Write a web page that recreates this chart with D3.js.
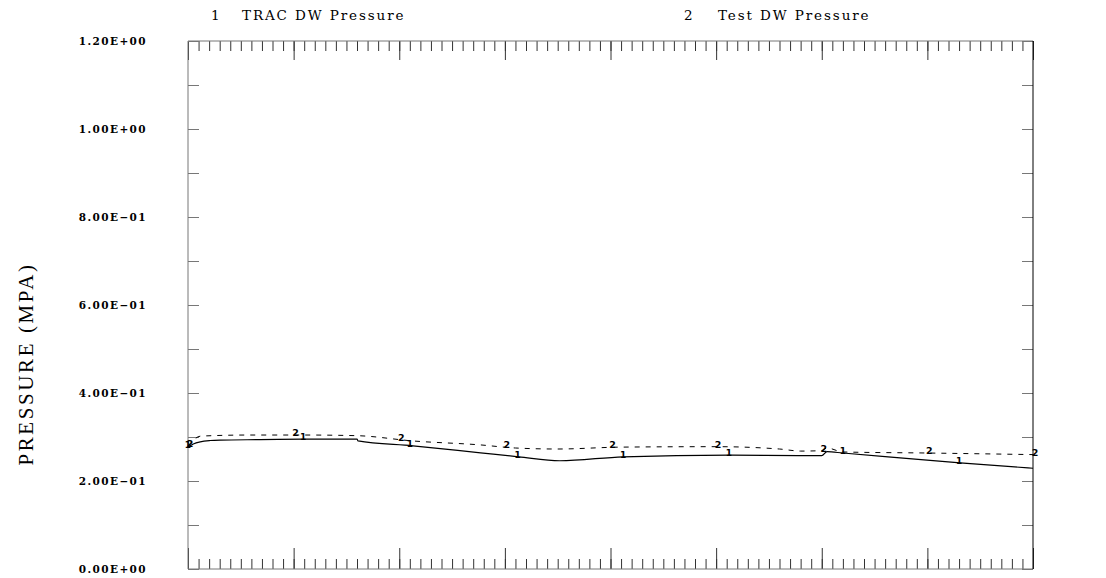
<!DOCTYPE html>
<html>
<head>
<meta charset="utf-8">
<script src="https://cdn.jsdelivr.net/npm/d3@7"></script>
<style>
body { margin: 0; background: #fff; }
svg { display: block; }
</style>
</head>
<body>
<svg></svg>
<script>
const width = 1106;
const height = 578;

// time axis in minor-tick units (no labels on the original)
const tracX = [0, 0.5, 1.16, 2.1, 3.06, 6.8, 10.9, 16.0, 16.1, 21.3, 27.7, 31.3, 35.2, 41.2, 51.3, 58.0, 60.0, 60.5, 62.0, 73.1, 80];
const tracP = [0.277, 0.284, 0.289, 0.292, 0.293, 0.294, 0.295, 0.2955, 0.291, 0.280, 0.264, 0.255, 0.246, 0.255, 0.259, 0.2575, 0.2575, 0.2666, 0.2636, 0.241, 0.229];

const testX = [0, 1.2, 5.9, 10.9, 16.0, 21.3, 27.7, 31.0, 35.0, 41.0, 50.0, 56.0, 58.0, 60.0, 60.5, 62.0, 70.0, 80];
const testP = [0.2795, 0.302, 0.3045, 0.3045, 0.303, 0.291, 0.282, 0.275, 0.2727, 0.277, 0.278, 0.2727, 0.268, 0.269, 0.275, 0.266, 0.2636, 0.260];

const tracMarks = [0, 10.9, 21.0, 31.2, 41.2, 51.2, 62.0, 73.0];
const testMarks = [0, 10, 20, 30, 40, 50, 60, 70, 80];

const yTicks = [0, 0.2, 0.4, 0.6, 0.8, 1.0, 1.2];
const yLabel = 'PRESSURE (MPA)';
const legendNames = ['TRAC DW Pressure', 'Test DW Pressure'];

const svg = d3.select('svg')
	.attr('width', width)
	.attr('height', height);

const x = d3.scaleLinear().domain([0, 80]).range([188, 1033]);
const y = d3.scaleLinear().domain([0, 1.2]).range([569, 41]);

function sci(v) {
	if (v === 0) return '0.00E+00';
	const e = Math.floor(Math.log10(v) + 1e-9);
	const m = v / Math.pow(10, e);
	const s = e < 0 ? '\u2212' : '+';
	return m.toFixed(2) + 'E' + s + String(Math.abs(e)).padStart(2, '0');
}

// minor and major ticks on all four sides
const minor = d3.range(0, 81, 1);
const major = d3.range(0, 81, 10);

function xAxis(gen, ty, size, vals) {
	const g = svg.append('g')
		.attr('transform', `translate(0,${ty})`)
		.call(gen(x).tickValues(vals).tickSize(size).tickSizeOuter(0).tickFormat(''));
	g.select('.domain').remove();
	g.selectAll('line').attr('stroke', '#333');
}
xAxis(d3.axisBottom, 569, -10, minor);
xAxis(d3.axisBottom, 569, -21, major);
xAxis(d3.axisTop, 41, -10, minor);
xAxis(d3.axisTop, 41, -19, major);

const yMinor = d3.range(0, 1.201, 0.1);
function yAxis(gen, tx) {
	const g = svg.append('g')
		.attr('transform', `translate(${tx},0)`)
		.call(gen(y).tickValues(yMinor).tickSize(-11).tickSizeOuter(0).tickFormat(''));
	g.select('.domain').remove();
	g.selectAll('line').attr('stroke', '#777');
}
yAxis(d3.axisLeft, 188);
yAxis(d3.axisRight, 1033);

// frame
svg.append('path').attr('d', `M${x(0)},${y(0)}V${y(1.2)}H${x(80)}`).attr('fill', 'none').attr('stroke', '#777');
svg.append('path').attr('d', `M${x(0)},${y(0)}H${x(80)}`).attr('fill', 'none').attr('stroke', '#777');
svg.append('path').attr('d', `M${x(80)},${y(0)}V${y(1.2)}`).attr('fill', 'none').attr('stroke', '#000');

// y tick labels
svg.append('g').selectAll('text')
	.data(yTicks)
	.enter()
	.append('text')
	.attr('x', 147)
	.attr('y', d => y(d) + 4)
	.attr('text-anchor', 'end')
	.attr('font-family', 'DejaVu Serif')
	.attr('font-weight', 'bold')
	.attr('font-size', 10.5)
	.attr('letter-spacing', 1.4)
	.text(sci);

svg.append('text')
	.attr('transform', `translate(33,364) rotate(-90)`)
	.attr('text-anchor', 'middle')
	.attr('font-family', 'Liberation Serif')
	.attr('font-size', 21)
	.attr('letter-spacing', 2.6)
	.text(yLabel);

// legend
const legendX = [211, 684];
const legendTextX = [242, 718];
legendNames.forEach((name, i) => {
	svg.append('text')
		.attr('x', legendX[i]).attr('y', 20)
		.attr('font-family', 'DejaVu Serif').attr('font-size', 13.5)
		.text(String(i + 1));
	svg.append('text')
		.attr('x', legendTextX[i]).attr('y', 20)
		.attr('font-family', 'DejaVu Serif').attr('font-size', 13.5)
		.attr('letter-spacing', 1.9)
		.text(name);
});

// lines
const trac = tracX.map((d, i) => [d, tracP[i]]);
const test = testX.map((d, i) => [d, testP[i]]);
const line = d3.line().x(d => x(d[0])).y(d => y(d[1])).curve(d3.curveMonotoneX);

svg.append('path').datum(test)
	.attr('d', line).attr('fill', 'none')
	.attr('stroke', '#000').attr('stroke-width', 1)
	.attr('stroke-dasharray', '5,6');
svg.append('path').datum(trac)
	.attr('d', line).attr('fill', 'none')
	.attr('stroke', '#000').attr('stroke-width', 1.2);

function valueAt(xs, ps, u) {
	const i = Math.max(1, d3.bisectLeft(xs, u));
	if (i >= xs.length) return ps[ps.length - 1];
	const t = (u - xs[i - 1]) / (xs[i] - xs[i - 1]);
	return ps[i - 1] + t * (ps[i] - ps[i - 1]);
}

svg.append('g').selectAll('text')
	.data(testMarks)
	.enter()
	.append('text')
	.attr('x', d => x(d) + 2)
	.attr('y', d => y(valueAt(testX, testP, d)) + 1)
	.attr('text-anchor', 'middle')
	.attr('font-family', 'DejaVu Sans')
	.attr('font-weight', 'bold')
	.attr('font-size', 9.5)
	.text('2');

svg.append('g').selectAll('text')
	.data(tracMarks)
	.enter()
	.append('text')
	.attr('x', d => x(d))
	.attr('y', d => y(valueAt(tracX, tracP, d)) + 1)
	.attr('text-anchor', 'middle')
	.attr('font-family', 'DejaVu Sans')
	.attr('font-weight', 'bold')
	.attr('font-size', 9)
	.attr('fill', '#000')
	.text('1');
</script>
</body>
</html>
